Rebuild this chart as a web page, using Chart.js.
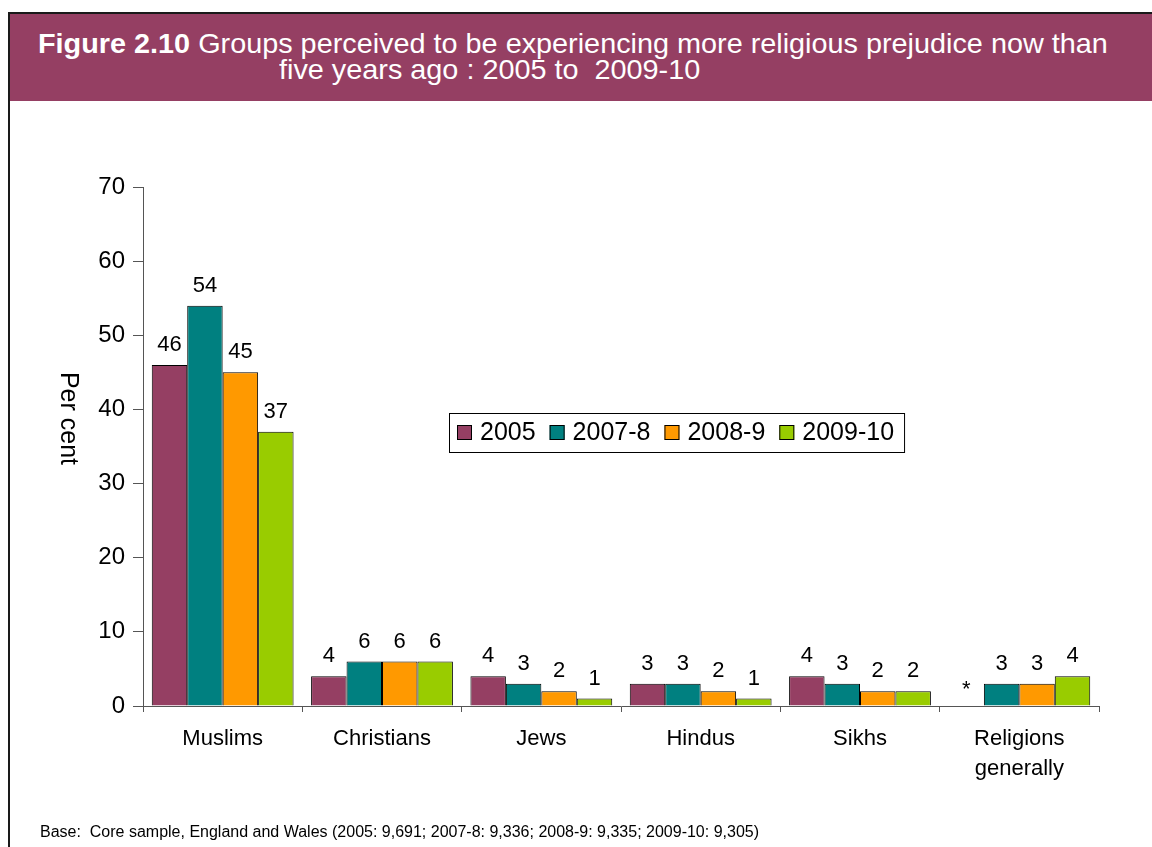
<!DOCTYPE html>
<html>
<head>
<meta charset="utf-8">
<script src="https://cdn.jsdelivr.net/npm/chart.js@4.4.0/dist/chart.umd.min.js"></script>
<style>
body{margin:0;background:#fff;font-family:Arial,"Liberation Sans",sans-serif;}
#wrap{position:relative;width:1152px;height:847px;overflow:hidden;}
#frame{position:absolute;left:8px;top:12px;width:1160px;height:850px;border-left:2px solid #1a1a1a;border-top:2px solid #1a1a1a;}
#titleBar{position:absolute;left:10px;top:14px;width:1142px;height:87px;background:#953f63;color:#fff;}
.tline{position:absolute;white-space:nowrap;font-size:28px;line-height:28px;transform:scaleX(1.029);transform-origin:0 0;}
#t1{left:28px;top:16px;}
#t2{left:269px;top:42px;}
#base{position:absolute;left:40px;top:824px;font-size:16px;line-height:16px;color:#000;white-space:nowrap;}
#chart{position:absolute;left:0;top:0;}
</style>
</head>
<body>
<div id="wrap">
<canvas id="chart" width="1152" height="847"></canvas>
<div id="frame"></div>
<div id="titleBar">
<div class="tline" id="t1"><b>Figure 2.10</b> Groups perceived to be experiencing more religious prejudice now than</div>
<div class="tline" id="t2">five years ago : 2005 to&nbsp; 2009-10</div>
</div>
<div id="base">Base:&nbsp; Core sample, England and Wales (2005: 9,691; 2007-8: 9,336; 2008-9: 9,335; 2009-10: 9,305)</div>
</div>
<script>
const categories=["Muslims","Christians","Jews","Hindus","Sikhs",["Religions","generally"]];
const seriesNames=["2005","2007-8","2008-9","2009-10"];
const v2005=[46,4,4,3,4,null];
const v2007=[54,6,3,3,3,3];
const v2008=[45,6,2,2,2,3];
const v2009=[37,6,1,1,2,4];
const yMin=0, yMax=70, yStep=10;

const colours=["#953f63","#008080","#ff9900","#99cc00"];
const font="Arial, 'Liberation Sans', sans-serif";

// numbers above each bar, "*" where there is no figure
const barLabels={
id:"barLabels",
afterDatasetsDraw(chart){
let ctx=chart.ctx;
let yScale=chart.scales.y;
ctx.save();
ctx.font="22px "+font;
ctx.fillStyle="#000";
ctx.textAlign="center";
ctx.textBaseline="alphabetic";
chart.data.datasets.forEach((ds,i)=>{
chart.getDatasetMeta(i).data.forEach((bar,j)=>{
let v=ds.data[j];
let y=v==null?yScale.getPixelForValue(0)+4:bar.y;
ctx.fillText(v==null?"*":String(v),bar.x,y-14);
});
});
ctx.restore();
}
};

// boxed legend sitting inside the plot
const boxLegend={
id:"boxLegend",
afterDraw(chart){
let ctx=chart.ctx;
let a=chart.chartArea;
let left=a.left+306, top=a.top+226, h=39;
ctx.save();
ctx.font="25px "+font;
let x=left+8;
let items=chart.data.datasets.map(ds=>({label:ds.label,color:ds.backgroundColor}));
let total=8;
items.forEach((it,i)=>{total+=15+8+ctx.measureText(it.label).width+(i<items.length-1?14:10);});
ctx.fillStyle="#fff";
ctx.fillRect(left,top,total,h);
ctx.strokeStyle="#000";
ctx.lineWidth=1;
ctx.strokeRect(left+0.5,top+0.5,total,h);
ctx.textBaseline="middle";
items.forEach(it=>{
ctx.fillStyle=it.color;
ctx.fillRect(x,top+12,15,15);
ctx.strokeStyle="#000";
ctx.strokeRect(x+0.5,top+12.5,14,14);
x+=15+8;
ctx.fillStyle="#000";
ctx.fillText(it.label,x,top+h/2+1);
x+=ctx.measureText(it.label).width+14;
});
ctx.restore();
}
};

// y axis title reading downwards
const yTitle={
id:"yTitle",
afterDraw(chart){
let ctx=chart.ctx;
let a=chart.chartArea;
ctx.save();
ctx.translate(68,(a.top+a.bottom)/2-28);
ctx.rotate(Math.PI/2);
ctx.font="25px "+font;
ctx.fillStyle="#000";
ctx.textAlign="center";
ctx.textBaseline="middle";
ctx.fillText("Per cent",0,0);
ctx.restore();
}
};

const values=[v2005,v2007,v2008,v2009];

new Chart(document.getElementById("chart"),{
type:"bar",
data:{
labels:categories,
datasets:seriesNames.map((name,i)=>({
label:name,
data:values[i],
backgroundColor:colours[i],
borderColor:"#000",
borderWidth:1,
categoryPercentage:0.89,
barPercentage:1.0
}))
},
options:{
responsive:false,
animation:false,
layout:{padding:{top:187,right:53,left:0,bottom:0}},
plugins:{legend:{display:false},tooltip:{enabled:false}},
scales:{
x:{
grid:{display:true,drawOnChartArea:false,offset:true,tickLength:6,color:"#555"},
border:{color:"#555"},
ticks:{color:"#000",font:{family:font,size:22,lineHeight:1.36},padding:12,maxRotation:0},
afterFit(s){s.height=141;}
},
y:{
min:yMin,max:yMax,
grid:{display:true,drawOnChartArea:false,tickLength:10,color:"#555"},
border:{color:"#555"},
ticks:{stepSize:yStep,color:"#000",font:{family:font,size:24},padding:8},
afterFit(s){s.width=143;}
}
}
},
plugins:[barLabels,boxLegend,yTitle]
});
</script>
</body>
</html>
